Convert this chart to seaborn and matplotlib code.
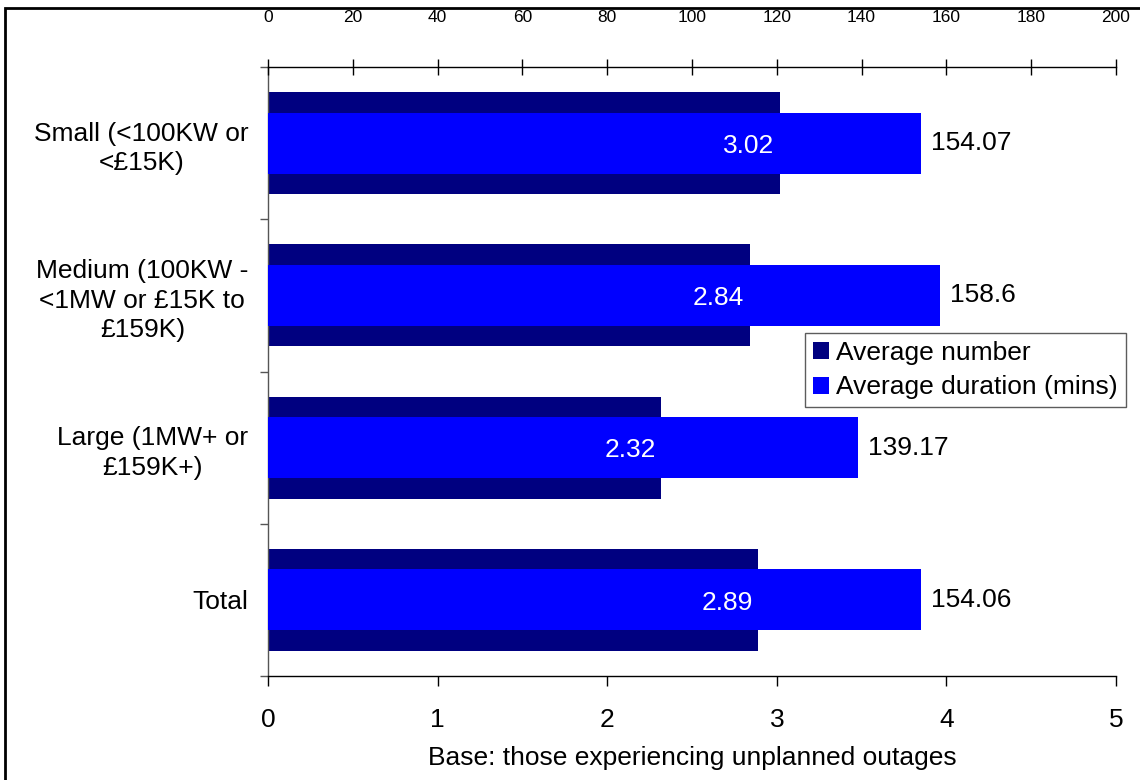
import matplotlib
matplotlib.use("Agg")
import matplotlib.pyplot as plt
from matplotlib.patches import Rectangle
import pandas as pd
import seaborn as sns

# Outage figures by customer size
categories = [
    "Small (<100KW or\n<£15K)",
    "Medium (100KW -\n<1MW or £15K to\n£159K)",
    "Large (1MW+ or\n£159K+)",
    "Total",
]
avg_number = [3.02, 2.84, 2.32, 2.89]
avg_duration = [154.07, 158.6, 139.17, 154.06]
number_ticks = [0, 1, 2, 3, 4, 5]
duration_ticks = [0, 20, 40, 60, 80, 100, 120, 140, 160, 180, 200]

NAVY = "#000080"
BLUE = "#0000FF"

sns.set_theme(style="white")
plt.rcParams["font.family"] = ["Liberation Sans", "DejaVu Sans"]
plt.rcParams["text.color"] = "black"
plt.rcParams["axes.labelcolor"] = "black"
plt.rcParams["xtick.color"] = "black"
plt.rcParams["ytick.color"] = "black"

FS = 19

df = pd.DataFrame({"category": categories,
                   "number": avg_number,
                   "duration": avg_duration})

fig = plt.figure(figsize=(11.4, 7.8), dpi=100)
fig.patch.set_facecolor("white")
ax = fig.add_axes([268 / 1140, 104 / 780, (1116 - 268) / 1140, (713 - 104) / 780])

# Average number: wide navy bars on the bottom axis
sns.barplot(data=df, x="number", y="category", order=categories, color=NAVY,
            saturation=1, width=0.67, orient="h", ax=ax, linewidth=0)

# Average duration: narrower blue bars on the top axis
ax2 = ax.twiny()
sns.barplot(data=df, x="duration", y="category", order=categories, color=BLUE,
            saturation=1, width=0.40, orient="h", ax=ax2, linewidth=0)

n = len(categories)
ax.set_ylim(n - 0.5, -0.5)
ax.set_xlim(number_ticks[0], number_ticks[-1])
ax2.set_xlim(duration_ticks[0], duration_ticks[-1])

# Bottom axis
ax.set_xticks(number_ticks)
ax.set_xticklabels([str(t) for t in number_ticks], fontsize=FS)
ax.tick_params(axis="x", direction="out", length=7, width=1, color="black",
               pad=16, bottom=True, labelcolor="black")
ax.set_xlabel("Base: those experiencing unplanned outages", fontsize=FS,
              labelpad=10, color="black")
ax.set_ylabel("")

# Category axis: labels at centres, ticks at group boundaries
ax.set_yticks(range(n))
ax.set_yticklabels(categories, fontsize=FS, linespacing=1.3)
for lbl in ax.get_yticklabels():
    lbl.set_multialignment("center")
    lbl.set_color("black")
ax.tick_params(axis="y", which="major", length=0, pad=14, left=True)
ax.set_yticks([i - 0.5 for i in range(n + 1)], minor=True)
ax.tick_params(axis="y", which="minor", direction="out", length=6, width=1,
               color="#555555", left=True)

# Top axis
ax2.set_xticks(duration_ticks)
ax2.set_xticklabels([str(t) for t in duration_ticks], fontsize=12.5)
ax2.tick_params(axis="x", direction="inout", length=12, width=1,
                color="black", pad=24, top=True, labelcolor="black")
ax2.set_xlabel("")

for a in (ax, ax2):
    for side in a.spines:
        a.spines[side].set_visible(False)
ax.spines["left"].set_visible(True)
ax.spines["left"].set_color("#555555")
ax.spines["left"].set_linewidth(1)
ax.spines["bottom"].set_visible(True)
ax.spines["bottom"].set_color("black")
ax.spines["bottom"].set_linewidth(1)
ax2.spines["top"].set_visible(True)
ax2.spines["top"].set_color("black")
ax2.spines["top"].set_linewidth(1)

# Value labels
for i, (num, dur) in enumerate(zip(avg_number, avg_duration)):
    ax2.annotate(f"{num:.2f}", xy=(num, i), xycoords=ax.transData,
                 xytext=(-4, -2), textcoords="offset points",
                 ha="right", va="center", color="white", fontsize=FS)
    ax2.annotate(f"{dur:g}", xy=(dur, i), xycoords="data",
                 xytext=(7, 0), textcoords="offset points",
                 ha="left", va="center", color="black", fontsize=FS)

# Legend
handles = [ax.containers[0], ax2.containers[0]]
leg = fig.legend(handles, ["Average number", "Average duration (mins)"],
                 loc="upper right", bbox_to_anchor=(1126 / 1140, 1 - 333 / 780),
                 bbox_transform=fig.transFigure, fontsize=FS, frameon=True,
                 fancybox=False, shadow=False, borderaxespad=0,
                 handlelength=0.6, handleheight=0.6, handletextpad=0.3,
                 borderpad=0.3, labelspacing=0.4)
leg.get_frame().set_edgecolor("#333333")
leg.get_frame().set_linewidth(1)
for t in leg.get_texts():
    t.set_color("black")

# Outer frame around the chart
fig.patches.append(Rectangle((5 / 1140, -0.05), 1.2, 1 - 8 / 780 + 0.05,
                             transform=fig.transFigure, fill=False,
                             edgecolor="black", linewidth=2, clip_on=False))

fig.savefig("out.png", dpi=100, facecolor="white")
